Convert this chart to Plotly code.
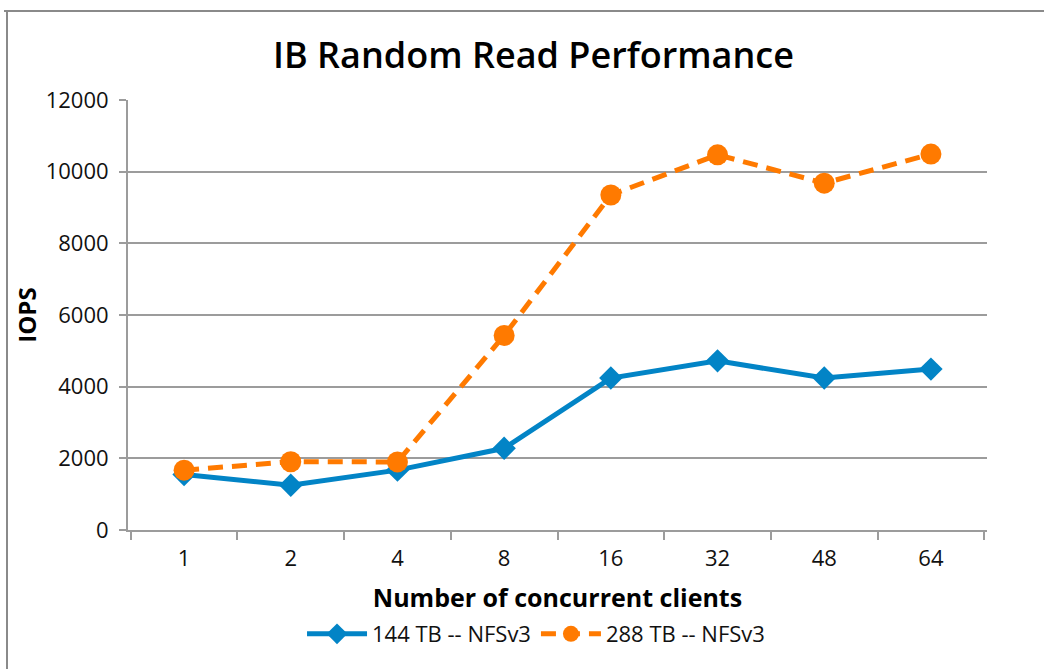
import plotly.graph_objects as go

clients = ["1", "2", "4", "8", "16", "32", "48", "64"]
iops_144 = [1550, 1250, 1670, 2280, 4240, 4720, 4240, 4490]
iops_288 = [1670, 1905, 1900, 5430, 9350, 10470, 9680, 10490]
y_ticks = [0, 2000, 4000, 6000, 8000, 10000, 12000]
y_tick_text = [str(v) for v in y_ticks]

FONT = "Open Sans"
BLUE = "#0284C6"
ORANGE = "#FF7A00"
GRID = "#9C9C9C"

fig = go.Figure()
fig.add_trace(go.Scatter(
    x=clients, y=iops_144, name="144 TB -- NFSv3", mode="lines+markers",
    line=dict(color=BLUE, width=5),
    marker=dict(symbol="diamond", size=18, color=BLUE),
))
fig.add_trace(go.Scatter(
    x=clients, y=iops_288, name="288 TB -- NFSv3", mode="lines+markers",
    line=dict(color=ORANGE, width=5, dash="15px,9px"),
    marker=dict(symbol="circle", size=21, color=ORANGE),
))

fig.update_layout(
    width=1044, height=669,
    margin=dict(l=128, r=57, t=100, b=139),
    paper_bgcolor="white", plot_bgcolor="white",
    font=dict(family=FONT, size=22, color="#111111"),
    title=dict(text="IB Random Read Performance", x=0.511, xanchor="center",
               y=1 - 55 / 669, yanchor="middle",
               font=dict(family=FONT, size=36, color="#000000", weight=600)),
    showlegend=True,
    legend=dict(orientation="h", x=0.475, xanchor="center", y=-0.242, yanchor="middle",
                font=dict(family=FONT, size=22, color="#111111"),
                itemwidth=60, bgcolor="rgba(0,0,0,0)"),
    xaxis=dict(
        type="category",
        showline=True, linecolor=GRID, linewidth=2,
        ticks="outside", tickson="boundaries", ticklen=8, tickwidth=2, tickcolor=GRID,
        showgrid=False, ticklabelstandoff=8,
        tickfont=dict(family=FONT, size=22, color="#111111"),
        title=dict(text="<b>Number of concurrent clients</b>", standoff=18,
                   font=dict(family=FONT, size=25, color="#000000")),
    ),
    yaxis=dict(
        range=[0, 12000], tickvals=y_ticks, ticktext=y_tick_text,
        showline=True, linecolor=GRID, linewidth=2,
        ticks="outside", ticklen=7, tickwidth=2, tickcolor=GRID,
        showgrid=True, gridcolor=GRID, gridwidth=2,
        zeroline=False, ticklabelstandoff=6,
        tickfont=dict(family=FONT, size=22, color="#111111"),
        title=dict(text="<b>IOPS</b>", standoff=2,
                   font=dict(family=FONT, size=24, color="#000000")),
    ),
    shapes=[
        dict(type="line", xref="paper", yref="paper",
             x0=(4 - 128) / 859, x1=(1044 - 128) / 859,
             y0=(530 - 11) / 430, y1=(530 - 11) / 430,
             line=dict(color="#8A8A8A", width=2)),
        dict(type="line", xref="paper", yref="paper",
             x0=(7 - 128) / 859, x1=(7 - 128) / 859,
             y0=(530 - 11) / 430, y1=(530 - 680) / 430,
             line=dict(color="#8A8A8A", width=2)),
    ],
)

fig.write_html("out.html", config={"displayModeBar": False},
               post_script="document.body.style.margin='0';")
